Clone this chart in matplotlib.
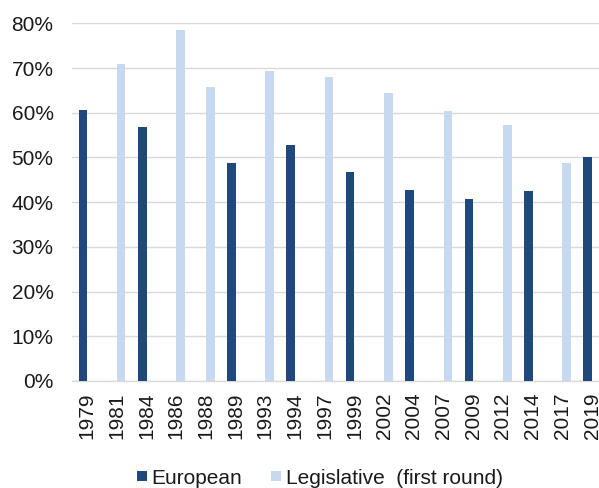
import numpy as np
import matplotlib.pyplot as plt
from matplotlib.ticker import PercentFormatter

years = ["1979", "1981", "1984", "1986", "1988", "1989", "1993", "1994", "1997",
         "1999", "2002", "2004", "2007", "2009", "2012", "2014", "2017", "2019"]
european = [60.71, np.nan, 56.72, np.nan, np.nan, 48.80, np.nan, 52.71, np.nan,
            46.76, np.nan, 42.76, np.nan, 40.63, np.nan, 42.43, np.nan, 50.12]
legislative = [np.nan, 70.86, np.nan, 78.50, 65.74, np.nan, 69.30, np.nan, 67.96,
               np.nan, 64.42, np.nan, 60.42, np.nan, 57.22, np.nan, 48.70, np.nan]

dark = "#1F497D"
light = "#C6D9F0"
grid = "#D9D9D9"

plt.rcParams['font.family'] = ['Liberation Sans', 'DejaVu Sans']

fig = plt.figure(figsize=(5.99, 4.88), dpi=100)
ax = fig.add_axes([72.3 / 599, 107 / 488, 534.6 / 599, 357.7 / 488])

x = np.arange(len(years))
w = 0.29
ax.bar(x - w / 2, european, width=w, color=dark, label="European", zorder=3)
ax.bar(x + w / 2, legislative, width=w, color=light,
       label="Legislative  (first round)", zorder=3)

ax.set_xlim(-0.5, len(years) - 0.5)
ax.set_ylim(0, 80)
ax.set_yticks(np.arange(0, 81, 10))
ax.yaxis.set_major_formatter(PercentFormatter(decimals=0))
ax.set_xticks(x)
ax.set_xticklabels(years, rotation=90)

ax.grid(axis="y", color=grid, linewidth=1.0, zorder=0)
ax.set_axisbelow(True)
for s in ["top", "right", "left"]:
    ax.spines[s].set_visible(False)
ax.spines["bottom"].set_color(grid)
ax.spines["bottom"].set_linewidth(1.0)

ax.tick_params(axis="y", length=0, pad=13.5, labelsize=15, labelcolor="#1a1a1a")
ax.tick_params(axis="x", length=0, pad=8.5, labelsize=15, labelcolor="#1a1a1a")

# legend at the bottom, small square handles
fig.legend(loc="center", bbox_to_anchor=(320 / 599, 10 / 488), ncol=2,
           frameon=False, fontsize=15, handlelength=0.48, handleheight=0.36,
           handletextpad=0.2, columnspacing=1.4, borderpad=0,
           labelcolor="#1a1a1a")

fig.savefig("out.png", dpi=100)
